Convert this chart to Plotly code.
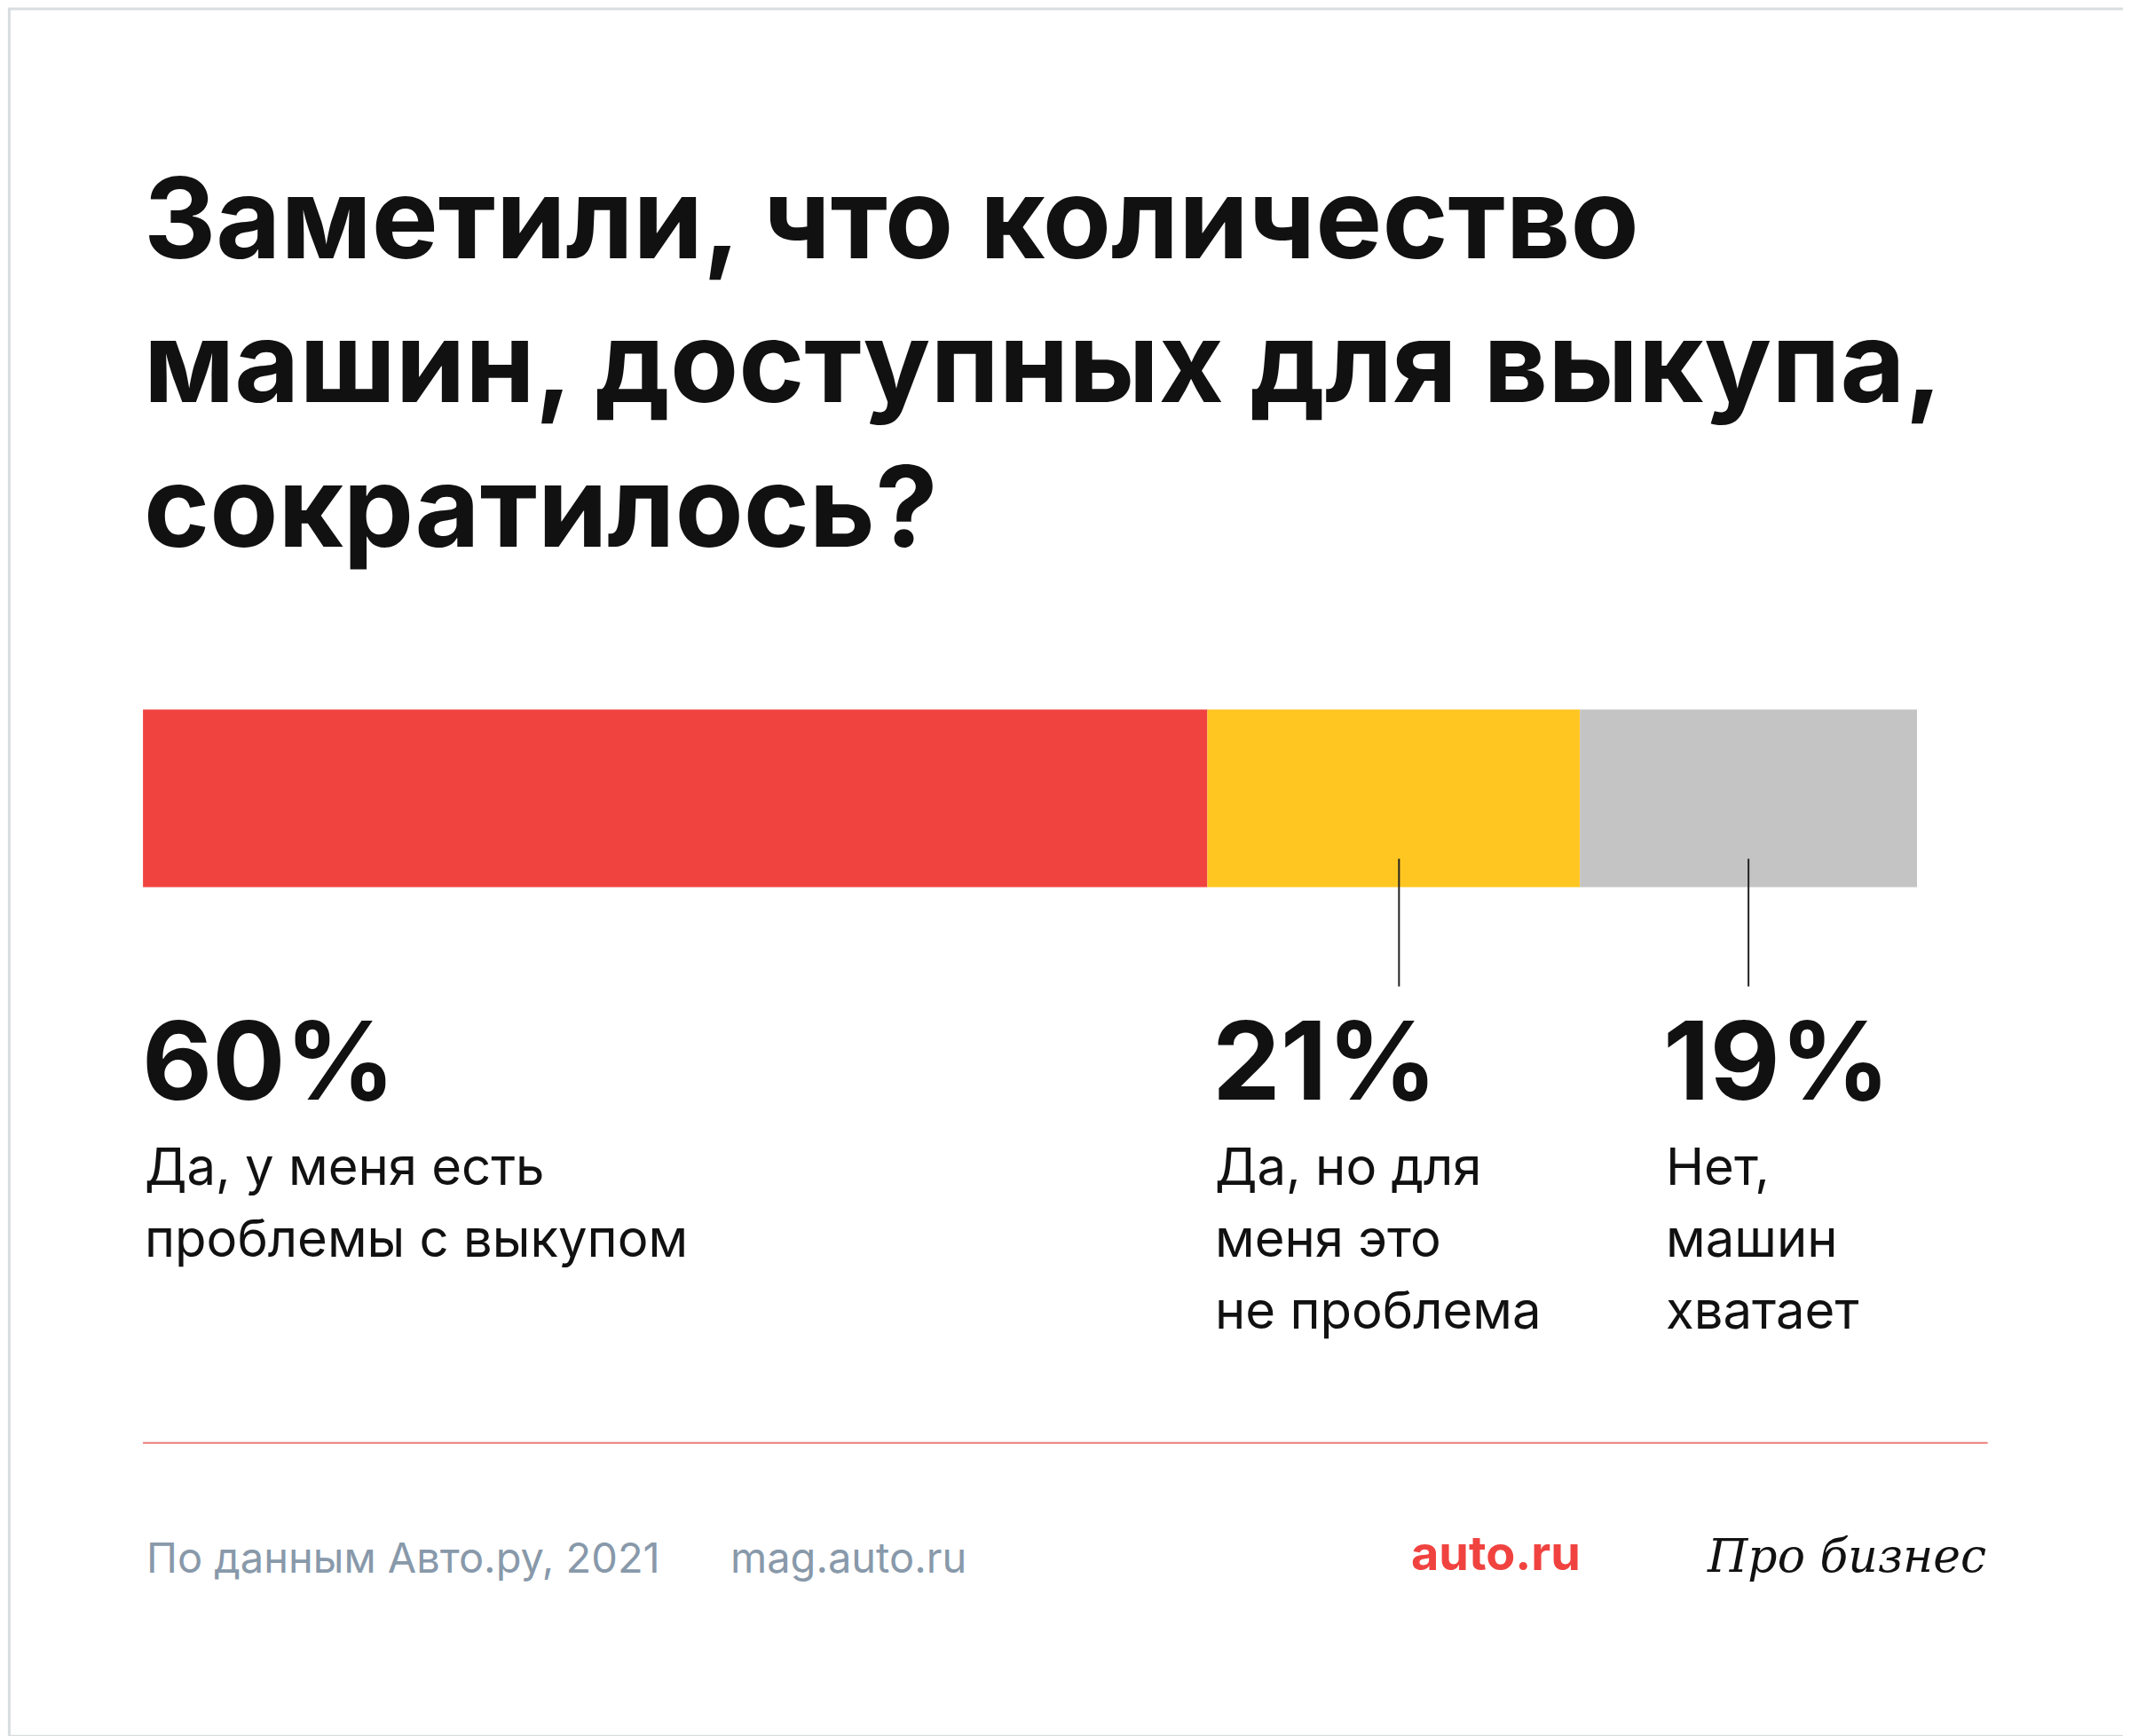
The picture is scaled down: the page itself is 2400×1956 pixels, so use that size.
import plotly.graph_objects as go

# data
categories = [["Да, у меня есть", "проблемы с выкупом"],
              ["Да, но для", "меня это", "не проблема"],
              ["Нет,", "машин", "хватает"]]
values = [60, 21, 19]
labels = ["60%", "21%", "19%"]
colors = ["#f04340", "#ffc621", "#c4c4c4"]

W, H = 2400, 1956
SW, SH = 1568, 1278  # reference measure grid
OFF = 5  # page margin compensation


def px(x):
    return (x - OFF) / SW


def py(y):
    return 1 - (y - OFF) / SH


FONT = "Inter"
fig = go.Figure()

base = 0
for v, c in zip(values, colors):
    fig.add_trace(go.Bar(x=[v], y=[0], base=base, orientation="h", marker_color=c,
                         marker_line_width=0, width=1, showlegend=False, hoverinfo="skip"))
    base += v

fig.update_layout(
    width=W, height=H, margin=dict(l=0, r=0, t=0, b=0),
    paper_bgcolor="white", plot_bgcolor="white", barmode="overlay",
    xaxis=dict(domain=[px(105), px(1411)], range=[0, 100], visible=False),
    yaxis=dict(domain=[py(653), py(522)], range=[-0.5, 0.5], visible=False),
)

# title
title_lines = ["Заметили, что количество", "машин, доступных для выкупа,", "сократилось?"]
for i, t in enumerate(title_lines):
    fig.add_annotation(text=t, x=px(104), y=py(160 + i * 106), xref="paper", yref="paper",
                       xanchor="left", yanchor="middle", showarrow=False,
                       font=dict(family=FONT, size=126, color="#111", weight=700))

# pointer lines from middle of small segments
starts = [0, values[0], values[0] + values[1]]
for k in (1, 2):
    mid = starts[k] + values[k] / 2 + (0.3 if k == 1 else 0)
    fig.add_shape(type="line", x0=mid, x1=mid, xref="x", yref="paper",
                  y0=py(632), y1=py(726), line=dict(color="#222", width=2))

label_x = [105, 893, 1225]
for lx, lab, cat in zip(label_x, labels, categories):
    fig.add_annotation(text=lab, x=px(lx - 2), y=py(780), xref="paper", yref="paper",
                       xanchor="left", yanchor="middle", showarrow=False,
                       font=dict(family=FONT, size=122, color="#111", weight=700))
    for j, line in enumerate(cat):
        fig.add_annotation(text=line, x=px(lx), y=py(858 + j * 53), xref="paper", yref="paper",
                           xanchor="left", yanchor="middle", showarrow=False,
                           font=dict(family=FONT, size=58, color="#111"))

# separator and frame
fig.add_shape(type="line", xref="paper", yref="paper", x0=px(105), x1=px(1463),
              y0=py(1062), y1=py(1062), line=dict(color="#ec7c7a", width=2))
fig.add_shape(type="rect", xref="paper", yref="paper", x0=0.001, x1=0.996, y0=0.004, y1=0.999,
              line=dict(color="#d8dde0", width=3))

# footer
fig.add_annotation(text="По данным Авто.ру, 2021", x=px(106), y=py(1146), xref="paper", yref="paper",
                   xanchor="left", yanchor="middle", showarrow=False,
                   font=dict(family=FONT, size=47, color="#8899aa"))
fig.add_annotation(text="mag.auto.ru", x=px(536), y=py(1146), xref="paper", yref="paper",
                   xanchor="left", yanchor="middle", showarrow=False,
                   font=dict(family=FONT, size=47, color="#8899aa"))
fig.add_annotation(text="auto.ru", x=px(1037), y=py(1143), xref="paper", yref="paper",
                   xanchor="left", yanchor="middle", showarrow=False,
                   font=dict(family=FONT, size=54, color="#f04340", weight=700))
fig.add_annotation(text="<i>Про бизнес</i>", x=px(1463), y=py(1145), xref="paper", yref="paper",
                   xanchor="right", yanchor="middle", showarrow=False,
                   font=dict(family="DejaVu Serif", size=52, color="#111"))

fig.write_html("out.html")
